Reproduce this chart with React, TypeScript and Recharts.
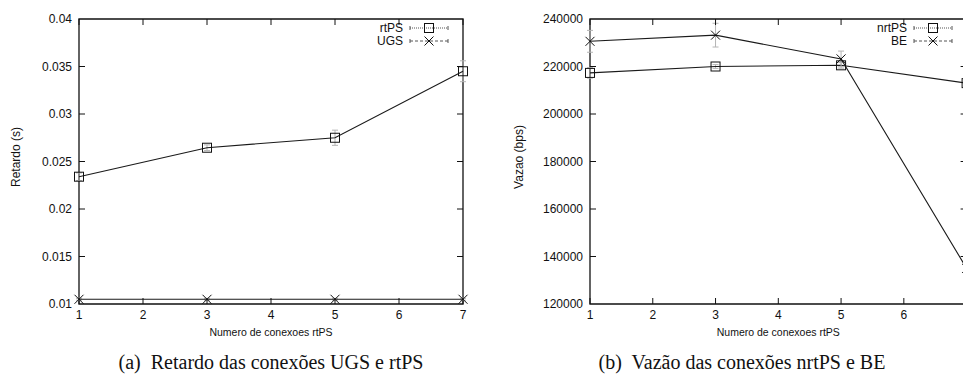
import React from "react";
import { LineChart, Line, XAxis, YAxis, ErrorBar, ReferenceArea } from "recharts";

// valores
const conexoes = [1, 3, 5, 7];
const xTicks = [1, 2, 3, 4, 5, 6, 7];

const retardoRtps = [0.0234, 0.02645, 0.0275, 0.0345];
const retardoRtpsErr = [0.0004, 0.0003, 0.0008, 0.0011];
const retardoUgs = [0.0105, 0.0105, 0.0105, 0.0105];
const retardoUgsErr = [0.0001, 0.0001, 0.0001, 0.0001];
const retardoTicks = [0.01, 0.015, 0.02, 0.025, 0.03, 0.035, 0.04];

const vazaoNrtps = [217300, 220000, 220500, 213000];
const vazaoNrtpsErr = [2200, 800, 1200, 1500];
const vazaoBe = [230600, 233200, 223200, 135000];
const vazaoBeErr = [4600, 5000, 3300, 3500];
const vazaoTicks = [120000, 140000, 160000, 180000, 200000, 220000, 240000];

const FONT = "'Liberation Sans', Arial, Helvetica, sans-serif";
const TICK_LEN = 6;
const PAGE_W = 963;

type Serie = { key: string; name: string; values: number[]; err: number[]; marker: "square" | "cross" };

function Square({ cx, cy }: { cx: number; cy: number }) {
  return <rect x={cx - 4.5} y={cy - 4.5} width={9} height={9} fill="none" stroke="#111" strokeWidth={1} />;
}

function Cross({ cx, cy }: { cx: number; cy: number }) {
  return (
    <g stroke="#111" strokeWidth={1}>
      <line x1={cx - 4.5} y1={cy - 4.5} x2={cx + 4.5} y2={cy + 4.5} />
      <line x1={cx - 4.5} y1={cy + 4.5} x2={cx + 4.5} y2={cy - 4.5} />
    </g>
  );
}

interface PanelProps {
  left: number;
  width: number;
  yAxisWidth: number;
  rightMargin: number;
  series: Serie[];
  yDomain: [number, number];
  yTicks: number[];
  yLabel: string;
  yLabelX: number;
}

const TOP = 19;
const HEIGHT = 340;
const XAXIS_H = 36;

function Panel({ left, width, yAxisWidth, rightMargin, series, yDomain, yTicks, yLabel, yLabelX }: PanelProps) {
  const data = conexoes.map((c, i) => {
    const row: Record<string, number> = { x: c };
    series.forEach((s) => {
      row[s.key] = s.values[i];
      row[s.key + "Err"] = s.err[i];
    });
    return row;
  });

  const plotLeft = yAxisWidth;
  const plotRight = width - rightMargin;
  const plotTop = TOP;
  const plotBottom = HEIGHT - XAXIS_H;

  const yTick = (props: any) => {
    const { y, payload } = props;
    return (
      <g>
        <text x={plotLeft - 7} y={y} dy={4} textAnchor="end" fontSize={12} fontFamily={FONT} fill="#111">
          {String(payload.value)}
        </text>
        {payload.value !== yDomain[0] && payload.value !== yDomain[1] && (
          <g stroke="#111" strokeWidth={1}>
            <line x1={plotLeft} x2={plotLeft + TICK_LEN} y1={y} y2={y} />
            <line x1={plotRight} x2={plotRight - TICK_LEN} y1={y} y2={y} />
          </g>
        )}
      </g>
    );
  };

  const xTick = (props: any) => {
    const { x, payload } = props;
    // o rótulo que cai fora da página não aparece no original
    const visible = left + x + 4 < PAGE_W;
    return (
      <g>
        {visible && (
          <text x={x} y={plotBottom + 15} textAnchor="middle" fontSize={12} fontFamily={FONT} fill="#111">
            {String(payload.value)}
          </text>
        )}
        <g stroke="#111" strokeWidth={1}>
          <line x1={x} x2={x} y1={plotBottom} y2={plotBottom - TICK_LEN} />
          <line x1={x} x2={x} y1={plotTop} y2={plotTop + TICK_LEN} />
        </g>
      </g>
    );
  };

  return (
    <div style={{ position: "absolute", left, top: 0 }}>
      <LineChart width={width} height={HEIGHT} data={data} margin={{ top: TOP, right: rightMargin, bottom: 0, left: 0 }}>
        <XAxis
          dataKey="x"
          type="number"
          domain={[1, 7]}
          ticks={xTicks}
          height={XAXIS_H}
          tickSize={0}
          tickLine={false}
          axisLine={false}
          tick={xTick}
          interval={0}
          label={{
            content: () => (
              <text x={(plotLeft + plotRight) / 2} y={plotBottom + 32} textAnchor="middle" fontSize={10.5} fontFamily={FONT} fill="#111">
                Numero de conexoes rtPS
              </text>
            ),
          }}
        />
        <YAxis
          type="number"
          domain={yDomain}
          ticks={yTicks}
          width={yAxisWidth}
          tickSize={0}
          tickLine={false}
          axisLine={false}
          tick={yTick}
          interval={0}
          label={{
            content: () => (
              <text
                x={yLabelX}
                y={157}
                textAnchor="middle"
                fontSize={12}
                fontFamily={FONT}
                fill="#111"
                transform={`rotate(-90 ${yLabelX} 157)`}
                dy={4}
              >
                {yLabel}
              </text>
            ),
          }}
        />
        <ReferenceArea x1={1} x2={7} y1={yDomain[0]} y2={yDomain[1]} fill="none" stroke="#111" strokeWidth={1.3} ifOverflow="visible" />
        {series.map((s) => (
          <Line
            key={s.key}
            dataKey={s.key}
            name={s.name}
            stroke="#1a1a1a"
            strokeWidth={1.1}
            isAnimationActive={false}
            dot={(p: any) =>
              s.marker === "square" ? <Square key={p.index} cx={p.cx} cy={p.cy} /> : <Cross key={p.index} cx={p.cx} cy={p.cy} />
            }
            activeDot={false}
          >
            <ErrorBar dataKey={s.key + "Err"} width={3} stroke="#b5b5b5" strokeWidth={1} direction="y" />
          </Line>
        ))}
      </LineChart>
    </div>
  );
}

function LegendBox({ right, series }: { right: number; series: Serie[] }) {
  // right = x onde termina a amostra da legenda
  return (
    <svg style={{ position: "absolute", left: 0, top: 0 }} width={PAGE_W} height={60}>
      {series.map((s, i) => {
        const y = 28 + i * 13;
        const x2 = right;
        const x1 = right - 38;
        const mid = (x1 + x2) / 2;
        return (
          <g key={s.key}>
            <text x={x1 - 7} y={y} dy={4} textAnchor="end" fontSize={12} fontFamily={FONT} fill="#111">
              {s.name}
            </text>
            <line x1={x1} x2={x2} y1={y} y2={y} stroke="#555" strokeWidth={1} strokeDasharray={s.marker === "square" ? "1 1" : "3 2"} />
            <line x1={x1} x2={x1} y1={y - 2} y2={y + 2} stroke="#555" />
            <line x1={x2} x2={x2} y1={y - 2} y2={y + 2} stroke="#555" />
            {s.marker === "square" ? <Square cx={mid} cy={y} /> : <Cross cx={mid} cy={y} />}
          </g>
        );
      })}
    </svg>
  );
}

const seriesRetardo: Serie[] = [
  { key: "rtps", name: "rtPS", values: retardoRtps, err: retardoRtpsErr, marker: "square" },
  { key: "ugs", name: "UGS", values: retardoUgs, err: retardoUgsErr, marker: "cross" },
];

const seriesVazao: Serie[] = [
  { key: "nrtps", name: "nrtPS", values: vazaoNrtps, err: vazaoNrtpsErr, marker: "square" },
  { key: "be", name: "BE", values: vazaoBe, err: vazaoBeErr, marker: "cross" },
];

const captionStyle: React.CSSProperties = {
  position: "absolute",
  top: 349,
  fontFamily: "'Liberation Serif', 'Times New Roman', serif",
  fontSize: 20,
  color: "#111",
  whiteSpace: "nowrap",
  transform: "translateX(-50%)",
  lineHeight: "26px",
};

export default function App() {
  return (
    <div style={{ position: "absolute", left: 0, top: 0, width: PAGE_W, height: 382, overflow: "hidden", background: "#fff" }}>
      <Panel
        left={0}
        width={480}
        yAxisWidth={79}
        rightMargin={17}
        series={seriesRetardo}
        yDomain={[0.01, 0.04]}
        yTicks={retardoTicks}
        yLabel="Retardo (s)"
        yLabelX={16}
      />
      <Panel
        left={480}
        width={500}
        yAxisWidth={110}
        rightMargin={13.4}
        series={seriesVazao}
        yDomain={[120000, 240000]}
        yTicks={vazaoTicks}
        yLabel="Vazao (bps)"
        yLabelX={39}
      />
      <LegendBox right={448} series={seriesRetardo} />
      <LegendBox right={952} series={seriesVazao} />
      <div style={{ ...captionStyle, left: 271 }}>(a)&nbsp; Retardo das conexões UGS e rtPS</div>
      <div style={{ ...captionStyle, left: 742 }}>(b)&nbsp; Vazão das conexões nrtPS e BE</div>
    </div>
  );
}
